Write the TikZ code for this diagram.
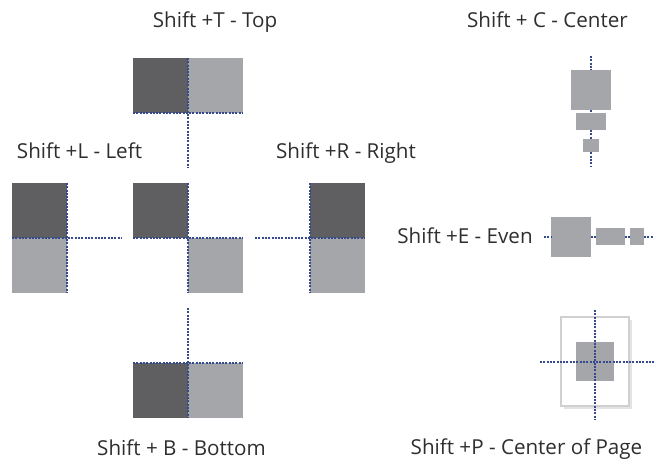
\documentclass[tikz,border=0pt]{standalone}
\usepackage{fontspec}
\setmainfont{Open Sans}
\usepackage{xcolor}
\usetikzlibrary{shadows}
\definecolor{kachelDunkel}{RGB}{95,95,98}
\definecolor{kachelHell}{RGB}{165,166,170}
\definecolor{leitblau}{RGB}{52,74,140}
\definecolor{seitenrand}{RGB}{208,208,208}
\tikzset{
    kachel/.style   = {fill=kachelHell, inner sep=0pt, outer sep=0pt},
    dunkel/.style   = {kachel, fill=kachelDunkel, minimum width=55pt, minimum height=55pt},
    hell/.style     = {kachel, minimum width=55pt, minimum height=55pt},
    leit/.style     = {draw=leitblau, line width=2.6pt, dash pattern=on 2pt off 1.3pt},
    seite/.style    = {draw=seitenrand, line width=2pt, fill=white, inner sep=0pt,
                       minimum width=68pt, minimum height=89pt,
                       drop shadow={shadow xshift=3pt, shadow yshift=-3pt, fill=black!22}},
    titel/.style    = {font=\fontsize{20.6}{23}\selectfont, text=black!82, anchor=base, inner sep=0pt}
}

\begin{document}
\begin{tikzpicture}[x=1pt, y=-1pt]
        \useasboundingbox (0,0) rectangle (654,462);

        % --- Top ---
        \node[titel]  (tt) at (215,28) {Shift +T - Top};
        \node[dunkel] (t1) at (160.5,85.5) {};
        \node[hell]   (t2) at (215.5,85.5) {};
        \coordinate (t3) at (188,168);
        \draw[leit] (t1.south west) -- (t2.south east);
        \draw[leit] (t1.north east) -- (t3);

        % --- Left ---
        \node[titel]  (lt) at (79.5,159) {Shift +L - Left};
        \node[dunkel] (l1) at (39.5,210.5) {};
        \node[hell]   (l2) at (39.5,265.5) {};
        \coordinate (l3) at (122,238);
        \draw[leit] (l1.north east) -- (l2.south east);
        \draw[leit] (l2.north west) -- (l3);

        % --- Mitte ---
        \node[dunkel] (m1) at (160.5,210.5) {};
        \node[hell]   (m2) at (215.5,265.5) {};
        \draw[leit] (m1.south west) -- (m2.north east);
        \draw[leit] (m1.north east) -- (m2.south west);

        % --- Right ---
        \node[titel]  (rt) at (346,159) {Shift +R - Right};
        \node[dunkel] (r1) at (337.5,210.5) {};
        \node[hell]   (r2) at (337.5,265.5) {};
        \coordinate (r3) at (255,238);
        \draw[leit] (r1.north west) -- (r2.south west);
        \draw[leit] (r3) -- (r2.north east);

        % --- Bottom ---
        \node[titel]  (ut) at (181.5,456) {Shift + B - Bottom};
        \node[dunkel] (u1) at (160.5,390.5) {};
        \node[hell]   (u2) at (215.5,390.5) {};
        \coordinate (u3) at (188,308);
        \draw[leit] (u1.north west) -- (u2.north east);
        \draw[leit] (u3) -- (u1.south east);

        % --- Center ---
        \node[titel]  (ct) at (547.5,28) {Shift + C - Center};
        \node[kachel, minimum width=40pt, minimum height=40pt] (c1) at (591,90) {};
        \node[kachel, minimum width=30pt, minimum height=17pt] (c2) at (591,121.5) {};
        \node[kachel, minimum width=16pt, minimum height=13pt] (c3) at (591,146) {};
        \coordinate (c0) at (591,56);
        \coordinate (c4) at (591,167);
        \draw[leit] (c0) -- (c1) -- (c2) -- (c3) -- (c4);

        % --- Even ---
        \node[titel]  (et) at (465,243.5) {Shift +E - Even};
        \node[kachel, minimum width=40pt, minimum height=40pt] (e1) at (571,237) {};
        \node[kachel, minimum width=29pt, minimum height=17pt] (e2) at (610.5,237) {};
        \node[kachel, minimum width=14pt, minimum height=17pt] (e3) at (637,237) {};
        \coordinate (e0) at (544,237);
        \coordinate (e4) at (654,237);
        \draw[leit] (e0) -- (e1) -- (e2) -- (e3) -- (e4);

        % --- Center of Page ---
        \node[titel]  (pt) at (526.5,455) {Shift +P - Center of Page};
        \node[seite]  (p1) at (595,362) {};
        \node[kachel, minimum width=38pt, minimum height=39pt] (p2) at (595,362) {};
        \coordinate (p3) at (595,310);
        \coordinate (p4) at (595,420);
        \coordinate (p5) at (540,362);
        \coordinate (p6) at (654,362);
        \draw[leit] (p3) -- (p4);
        \draw[leit] (p5) -- (p6);
\end{tikzpicture}
\end{document}
